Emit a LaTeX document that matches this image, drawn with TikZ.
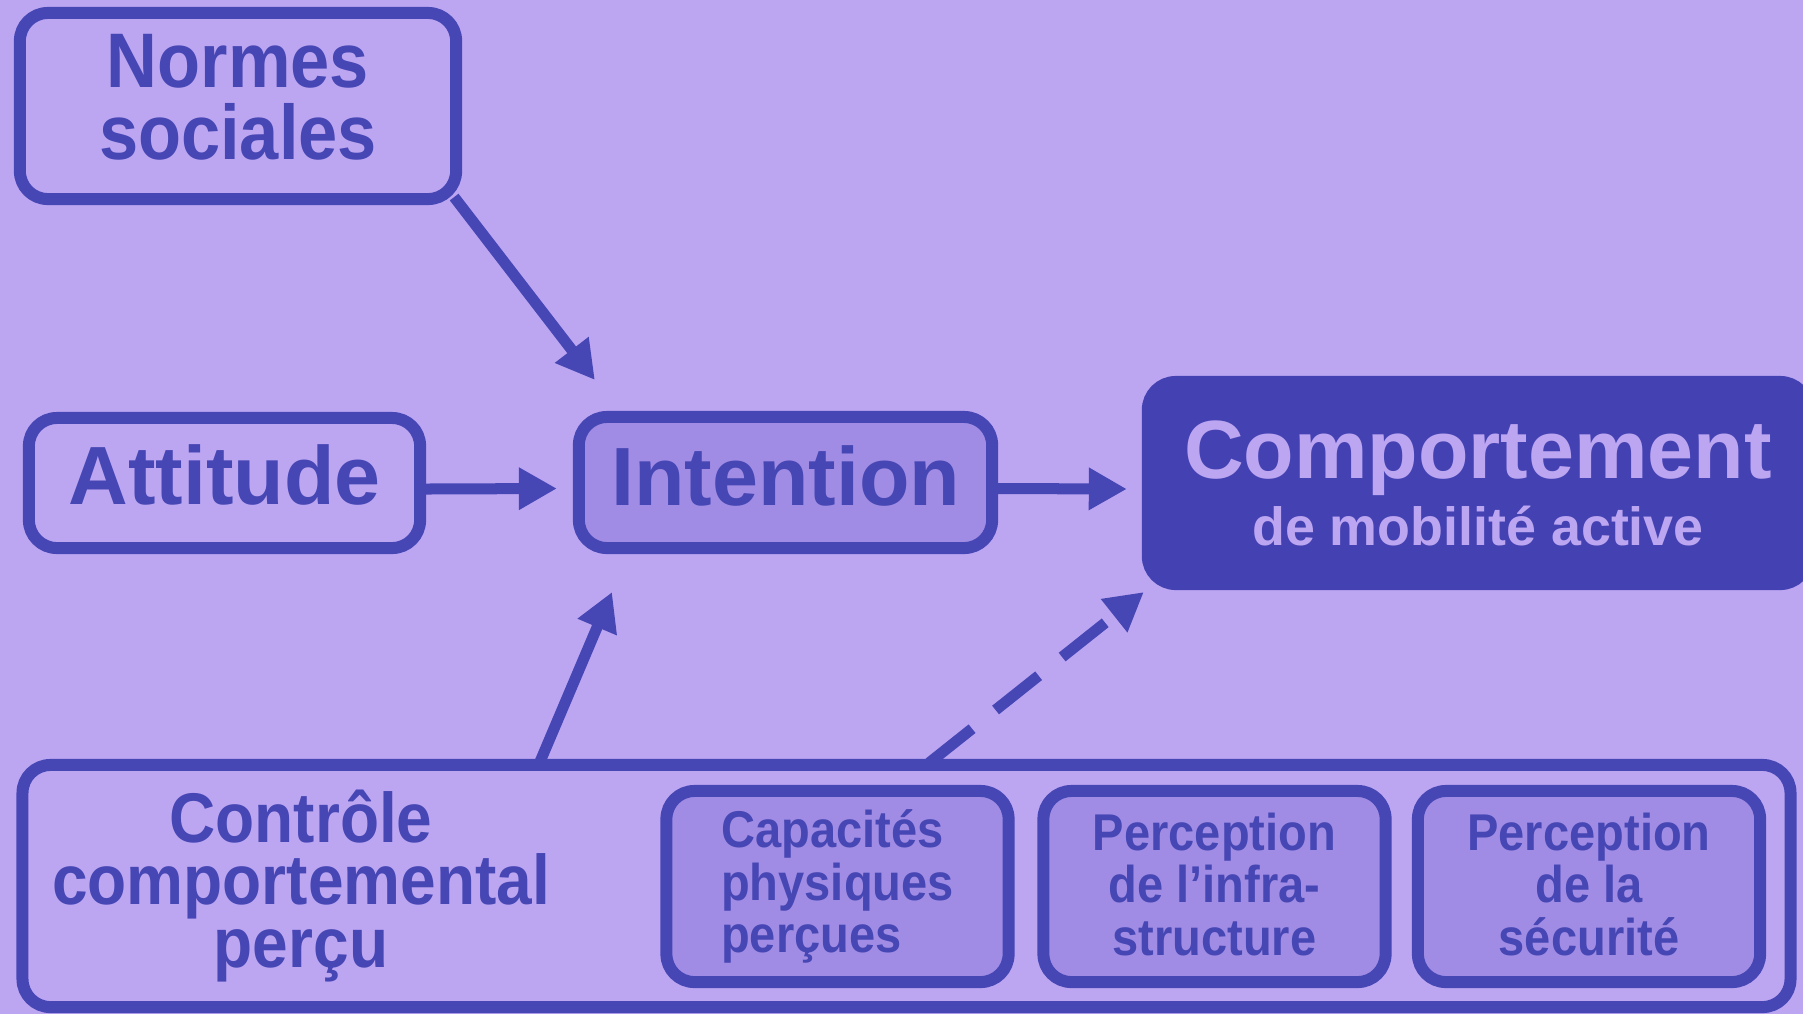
\documentclass[tikz,border=0pt]{standalone}
\usepackage{fontspec}
\setmainfont{Liberation Sans}
\newfontfamily\narrowfont[FakeStretch=0.91]{Liberation Sans}
\usetikzlibrary{calc,arrows.meta}

\definecolor{bgpurple}{HTML}{BCA6F2}
\definecolor{linepurple}{HTML}{4646B4}
\definecolor{midpurple}{HTML}{A08CE4}
\definecolor{darkpurple}{HTML}{4442B2}

\begin{document}
\begin{tikzpicture}[x=0.01cm, y=-0.01cm,
	box/.style={draw=linepurple, line width=0.12cm, rounded corners=0.28cm, text=linepurple, align=center, inner sep=0pt},
	subbox/.style={box, fill=midpurple, minimum width=3.42cm, minimum height=1.91cm, font=\narrowfont\bfseries\fontsize{14.7}{15}\selectfont},
	arr/.style={linepurple, line width=0.11cm, -{Triangle[length=0.38cm, width=0.4cm]}}]
	%background
	\fill[bgpurple] (0,0) rectangle (1803,1014);
	\useasboundingbox (0,0) rectangle (1803,1014);
	
	%main boxes
	\node[box, minimum width=4.36cm, minimum height=1.86cm, text depth=0.19cm, font=\narrowfont\bfseries\fontsize{22}{20.5}\selectfont] (normes) at (238,106) {Normes\\sociales};
	\node[box, minimum width=3.91cm, minimum height=1.30cm, text depth=0.17cm, font=\bfseries\fontsize{23.5}{28}\selectfont] (attitude) at (224.5,483) {Attitude};
	\node[box, fill=midpurple, minimum width=4.13cm, minimum height=1.31cm, text depth=0.13cm, font=\bfseries\fontsize{23.5}{28}\selectfont] (intention) at (785.5,482.5) {Intention};
	\node[box, draw=darkpurple, fill=darkpurple, text=bgpurple, minimum width=6.60cm, minimum height=2.02cm, font=\bfseries\fontsize{15.3}{19}\selectfont] (comport) at (1478,483) {{\fontsize{23.5}{19}\selectfont Comportement}\\de mobilité active};
	
	%perceived control
	\node[box, minimum width=17.67cm, minimum height=2.42cm] (pbc) at (906.5,886) {};
	\node[text=linepurple, align=center, font=\narrowfont\bfseries\fontsize{20}{17.9}\selectfont] (controle) at (301,886) {Contrôle\\comportemental\\perçu};
	\node[subbox, align=left] (capacites) at (837.5,886.5) {Capacités\\physiques\\perçues};
	\node[subbox, text depth=0.05cm] (infra) at (1214.5,886.5) {Perception\\de l’infra-\\structure};
	\node[subbox, text depth=0.05cm] (securite) at (1589,886.5) {Perception\\de la\\sécurité};
	
	%arrows
	\draw[arr] ([shift={(-8,-8)}]normes.south east) -- ([shift={(22,-31)}]intention.north west);
	\draw[arr] ([shift={(0,6)}]attitude.east) -- ([shift={(-16,6)}]intention.west);
	\draw[arr] ([shift={(0,6)}]intention.east) -- ([shift={(-15,6)}]comport.west);
	\draw[arr] ([shift={(-367,4)}]pbc.north) -- ([shift={(-173.5,38)}]intention.south);
	\draw[arr, dash pattern=on 0.55cm off 0.3cm] ([shift={(22.5,4)}]pbc.north) -- ([shift={(2,2)}]comport.south west);
\end{tikzpicture}
\end{document}
